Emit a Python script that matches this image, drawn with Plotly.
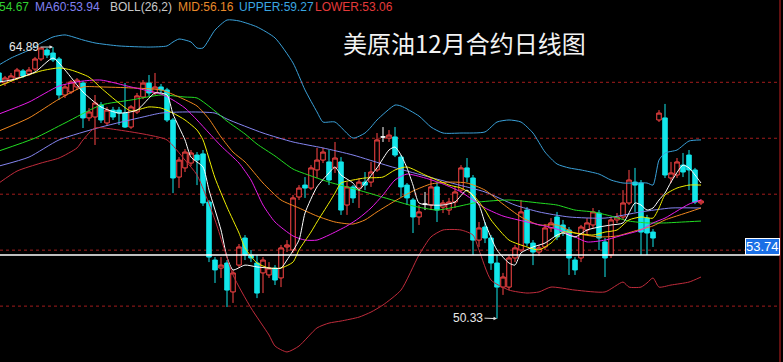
import numpy as np
import plotly.graph_objects as go

# ---------------- data ----------------
idx = list(range(-1, 117))

opens = [
    63.50, 62.96, 63.12, 63.23, 63.61, 63.45, 63.71, 64.25, 64.73, 64.57,
    64.25, 62.32, 62.48, 62.75, 62.96, 61.09, 61.14, 61.78, 60.82, 61.51,
    61.51, 61.35, 60.60, 61.41, 62.21, 62.96, 62.43, 62.75, 62.59, 60.98,
    57.92, 58.41, 58.67, 59.10, 59.16, 56.58, 53.47, 53.04, 53.31, 51.76,
    53.20, 54.65, 53.74, 53.31, 52.78, 52.67, 53.04, 52.51, 54.17, 54.01,
    56.85, 57.49, 57.33, 58.30, 58.83, 58.73, 58.41, 58.73, 56.42, 57.39,
    57.33, 57.65, 57.65, 58.30, 60.07, 60.01, 60.07, 58.99, 57.49, 56.69,
    55.78, 56.47, 56.42, 57.39, 56.31, 56.15, 56.58, 57.22, 58.41, 57.87,
    54.54, 55.24, 54.65, 53.31, 52.02, 52.02, 53.58, 54.01, 56.15, 54.38,
    53.90, 54.17, 55.19, 55.78, 55.35, 55.08, 53.47, 53.58, 55.08, 55.35,
    55.99, 54.44, 53.74, 55.62, 55.78, 56.53, 57.65, 57.60, 55.72, 54.97,
    60.98, 61.09, 57.87, 58.03, 58.56, 59.10, 58.30, 56.53]

highs = [
    63.66, 63.34, 63.50, 63.77, 63.71, 63.82, 64.36, 64.86, 64.84, 64.89,
    64.36, 62.91, 63.12, 63.23, 63.07, 61.62, 62.32, 61.94, 61.68, 61.68,
    61.68, 62.96, 61.78, 62.43, 63.12, 63.39, 63.50, 62.91, 62.70, 61.09,
    58.99, 59.42, 59.37, 59.26, 59.37, 56.69, 53.63, 53.63, 53.47, 52.94,
    54.33, 54.81, 54.01, 53.74, 53.63, 53.36, 53.20, 54.28, 54.54, 56.96,
    57.49, 57.92, 58.56, 59.48, 59.48, 59.37, 59.80, 58.99, 57.65, 57.49,
    57.87, 58.19, 58.73, 60.28, 60.60, 60.44, 60.60, 59.10, 57.60, 56.80,
    56.42, 57.12, 57.87, 57.65, 56.69, 56.80, 57.39, 58.56, 58.94, 58.03,
    55.51, 55.51, 54.81, 53.74, 52.78, 53.74, 54.28, 56.69, 56.31, 54.54,
    54.28, 55.40, 55.72, 56.05, 55.62, 55.24, 53.63, 55.35, 55.72, 56.26,
    56.15, 54.65, 55.78, 55.99, 57.22, 58.30, 58.41, 57.76, 55.89, 55.13,
    61.51, 61.84, 58.73, 58.94, 59.21, 59.37, 58.41, 56.74]

lows = [
    62.91, 62.80, 63.02, 63.12, 63.23, 63.34, 63.61, 64.14, 64.30, 64.09,
    62.05, 62.16, 62.37, 62.59, 60.55, 60.92, 59.64, 60.82, 60.66, 60.98,
    60.71, 60.55, 60.50, 61.30, 62.10, 62.27, 62.32, 62.43, 60.87, 57.06,
    57.33, 58.19, 58.51, 57.49, 56.37, 53.36, 52.24, 52.51, 50.95, 51.17,
    53.04, 53.47, 53.36, 51.43, 51.70, 52.51, 52.13, 52.02, 53.90, 53.85,
    56.69, 56.80, 57.22, 57.87, 58.67, 57.49, 58.14, 55.89, 55.89, 56.53,
    56.26, 57.22, 57.39, 58.19, 59.80, 59.80, 58.99, 56.85, 56.42, 54.92,
    55.35, 56.15, 56.15, 55.51, 55.99, 55.89, 56.26, 57.06, 57.65, 53.74,
    54.17, 54.38, 52.94, 50.33, 51.60, 51.86, 53.36, 53.90, 54.22, 53.20,
    53.69, 54.01, 54.97, 54.54, 54.76, 52.67, 52.67, 53.36, 54.81, 55.19,
    54.01, 52.56, 53.58, 55.46, 55.62, 56.42, 56.05, 53.74, 53.74, 54.17,
    60.87, 57.87, 57.60, 57.87, 57.92, 57.22, 56.47, 56.42]

closes = [
    63.02, 63.23, 63.34, 63.66, 63.34, 63.66, 64.25, 64.84, 64.46, 64.20,
    62.32, 62.75, 63.02, 63.12, 61.09, 61.41, 61.89, 60.98, 61.51, 61.14,
    61.35, 60.60, 61.68, 62.27, 62.96, 62.43, 62.75, 62.59, 60.98, 57.87,
    58.83, 59.26, 59.21, 58.83, 56.53, 53.63, 52.94, 53.20, 51.86, 52.78,
    54.17, 53.74, 53.58, 51.70, 53.47, 53.04, 52.40, 54.12, 54.28, 56.80,
    57.33, 57.33, 58.41, 58.83, 59.26, 57.76, 58.94, 56.15, 57.39, 56.80,
    57.65, 57.49, 58.19, 59.91, 60.07, 60.17, 59.10, 57.39, 56.80, 55.78,
    56.05, 56.47, 57.39, 56.15, 56.53, 56.58, 57.12, 58.41, 57.92, 54.54,
    55.19, 54.65, 53.31, 52.02, 52.56, 53.58, 54.12, 56.05, 54.38, 53.90,
    54.12, 55.19, 55.46, 54.71, 54.97, 53.58, 52.94, 55.24, 55.46, 56.05,
    54.65, 53.58, 55.62, 55.78, 56.53, 57.76, 57.49, 54.97, 54.92, 54.65,
    61.35, 58.03, 58.14, 58.73, 58.19, 58.30, 56.58, 56.64]

ma5_x = [-1, 1, 5, 8, 10, 13, 16, 19, 22, 25, 27, 28, 30, 31, 33, 34, 36, 37, 38, 40,
         42, 44, 46, 47, 49, 50, 52, 54, 55, 56, 58, 59, 60, 62, 64, 65, 66, 67, 68, 69,
         71, 73, 75, 77, 79, 80, 82, 84, 85, 86, 88, 90, 92, 93, 95, 97, 99, 101, 103, 105,
         106, 107, 108, 109, 110, 111, 113, 114, 115, 116]
ma5_y = [63.02, 63.12, 63.55, 64.30, 63.66, 62.48, 61.68, 61.35, 61.51, 62.43,
         62.32, 61.30, 59.91, 58.99, 58.46, 57.22, 55.08, 53.63, 52.94, 53.20,
         53.10, 53.04, 53.04, 53.47, 54.54, 55.99, 57.39, 58.14, 58.46, 58.03,
         57.60, 57.22, 57.60, 58.41, 59.37, 59.53, 59.10, 58.41, 57.49, 56.53,
         56.42, 56.42, 56.58, 57.22, 56.42, 55.46, 54.01, 53.31, 53.20, 53.85,
         54.17, 54.38, 54.81, 54.92, 54.71, 55.08, 55.24, 55.35, 55.46, 56.53,
         56.42, 56.15, 56.26, 56.69, 57.06, 57.65, 58.56, 58.41, 58.03, 57.60]

ma10_x = [-1, 2, 6, 9, 11, 14, 16, 19, 21, 24, 26, 28, 30, 32, 33, 35, 37, 39, 40, 42,
          44, 46, 48, 49, 51, 52, 54, 55, 56, 58, 60, 63, 65, 67, 70, 72, 74, 76, 78, 80,
          81, 84, 87, 89, 91, 93, 95, 98, 100, 102, 104, 106, 108, 109, 110, 112, 114, 116]
ma10_y = [62.80, 63.18, 63.61, 63.77, 63.66, 63.28, 62.70, 61.89, 61.46, 61.68,
          61.62, 61.35, 60.98, 60.44, 59.91, 57.87, 56.31, 54.92, 54.12, 53.31,
          53.04, 53.04, 53.36, 54.01, 54.97, 55.51, 56.53, 57.06, 57.60, 57.76,
          57.87, 57.92, 58.30, 58.46, 58.03, 57.76, 57.49, 57.33, 56.96, 56.15,
          55.62, 54.54, 54.17, 54.01, 54.38, 54.97, 54.92, 54.81, 54.97, 55.08,
          55.62, 55.78, 55.72, 56.26, 56.96, 57.33, 57.49, 57.49]

ma20_x = [-1, 4, 9, 13, 16, 21, 26, 28, 30, 32, 34, 36, 39, 41, 43, 45, 48, 50, 52, 54,
          57, 59, 61, 63, 65, 67, 70, 73, 76, 80, 83, 87, 92, 95, 97, 100, 103, 106, 108, 110,
          112, 114, 116]
ma20_y = [61.30, 61.94, 62.80, 63.07, 63.12, 62.75, 62.37, 62.05, 61.62, 60.98,
          60.28, 59.59, 58.67, 57.76, 56.42, 55.51, 54.76, 54.54, 54.54, 54.81,
          55.30, 55.72, 56.26, 56.96, 57.76, 58.08, 57.87, 57.55, 57.12, 56.26,
          55.83, 55.51, 55.13, 54.71, 54.44, 54.54, 54.81, 55.08, 55.46, 55.72,
          56.10, 56.47, 56.69]

mid_x = [-1, 4, 9, 13, 16, 21, 26, 29, 32, 34, 36, 38, 40, 43, 46, 49, 52, 55, 58, 60,
         62, 65, 68, 71, 74, 77, 80, 83, 86, 89, 92, 95, 99, 102, 105, 108, 110, 113, 116]
mid_y = [60.39, 61.09, 62.10, 62.75, 62.75, 62.70, 62.59, 62.21, 61.73, 61.03,
         60.07, 59.26, 58.73, 57.60, 56.69, 56.26, 55.83, 55.51, 55.40, 55.62,
         56.05, 56.64, 57.17, 57.55, 57.65, 57.60, 57.22, 56.47, 55.78, 55.35,
         55.35, 54.92, 54.71, 54.76, 55.03, 55.30, 55.62, 55.94, 56.26]

ma40_x = [-1, 5, 10, 16, 21, 26, 30, 32, 35, 37, 40, 42, 45, 48, 51, 54, 57, 60, 64, 68,
          72, 75, 79, 84, 89, 92, 95, 98, 101, 104, 107, 110, 113, 116]
ma40_y = [59.32, 60.01, 60.82, 61.78, 62.05, 62.32, 62.21, 62.16, 61.46, 60.92,
          60.23, 59.69, 59.05, 58.35, 57.98, 57.65, 57.39, 57.12, 56.74, 56.37,
          56.15, 56.31, 56.58, 56.69, 56.53, 56.42, 56.15, 56.05, 55.83, 55.56,
          55.46, 55.46, 55.51, 55.56]

ma60_x = [-1, 4, 9, 16, 23, 26, 30, 35, 37, 43, 48, 53, 58, 64, 70, 75, 80, 85, 89, 94,
          100, 106, 111, 116]
ma60_y = [58.51, 58.99, 59.91, 60.60, 61.14, 61.35, 61.41, 61.35, 61.03, 60.28,
          59.80, 59.48, 59.10, 58.51, 57.98, 57.55, 57.12, 56.42, 56.05, 55.78,
          55.72, 56.05, 56.26, 56.26]

upper_x = [-1, 1, 4, 6, 8, 10, 13, 15, 19, 24, 27, 28, 29, 31, 32, 33, 35, 37, 39, 42,
           45, 48, 50, 52, 53, 55, 58, 60, 61, 62, 65, 66, 69, 71, 73, 76, 80, 82, 84, 86,
           88, 90, 92, 94, 96, 99, 101, 103, 107, 108, 109, 110, 112, 114, 116]
upper_y = [63.93, 64.30, 64.73, 65.11, 65.43, 65.54, 65.27, 65.11, 64.95, 64.89,
           64.95, 65.16, 65.32, 65.16, 64.84, 64.84, 65.80, 66.34, 66.29, 65.97,
           65.38, 64.04, 62.59, 61.41, 60.87, 60.87, 60.01, 60.28, 60.60, 60.98,
           61.78, 61.73, 61.19, 60.60, 60.28, 60.28, 60.34, 60.87, 60.98, 60.87,
           60.28, 59.26, 58.62, 58.41, 58.30, 58.08, 57.76, 57.60, 57.60, 57.49,
           58.83, 59.21, 59.37, 59.85, 59.91]

lower_x = [-1, 2, 6, 9, 12, 13, 15, 19, 24, 27, 30, 32, 35, 38, 41, 44, 45, 47, 49, 52,
           54, 56, 59, 61, 63, 66, 69, 71, 73, 76, 78, 79, 81, 84, 87, 89, 91, 95, 100, 103,
           104, 106, 107, 108, 109, 111, 114, 116]
lower_y = [57.60, 58.24, 58.67, 58.94, 59.48, 59.91, 60.55, 60.44, 60.17, 59.91,
           58.83, 58.03, 55.62, 52.67, 50.90, 49.45, 48.86, 48.54, 48.86, 49.83,
           50.09, 50.20, 50.41, 50.68, 51.06, 51.86, 53.74, 54.71, 55.08, 55.08,
           54.81, 54.01, 52.40, 51.86, 51.70, 51.76, 52.02, 51.86, 51.76, 52.29,
           52.02, 52.02, 52.24, 52.51, 52.02, 52.13, 52.29, 52.56]

grid_levels = [51, 54, 57, 60, 63]
last_price = 53.74
title_text = "美原油12月合约日线图"
legend_labels = ["54.67", "MA60:53.94", "BOLL(26,2)", "MID:56.16", "UPPER:59.27", "LOWER:53.06"]

# ---------------- styling ----------------
RED = "#ff4646"
CYAN = "#12e6ea"
W, H = 783, 362
PLOT_W = 780
x_range = [-5 / 6, (PLOT_W - 5) / 6]
y_range = [48.003, 67.413]

o = np.array(opens); h = np.array(highs); l = np.array(lows); c = np.array(closes)
xi = np.array(idx)
doji = np.isclose(o, c)
norm = ~doji

fig = go.Figure()
fig.add_trace(go.Candlestick(
    x=xi[norm], open=o[norm], high=h[norm], low=l[norm], close=c[norm],
    increasing=dict(line=dict(color=RED, width=1), fillcolor="#000000"),
    decreasing=dict(line=dict(color=CYAN, width=1), fillcolor=CYAN),
    whiskerwidth=0, hoverinfo="skip", showlegend=False))
fig.add_trace(go.Candlestick(
    x=xi[doji], open=o[doji], high=h[doji], low=l[doji], close=c[doji],
    increasing=dict(line=dict(color="#ffffff", width=1), fillcolor="#ffffff"),
    decreasing=dict(line=dict(color="#ffffff", width=1), fillcolor="#ffffff"),
    whiskerwidth=0, hoverinfo="skip", showlegend=False))

line_specs = [
    (ma60_x, ma60_y, "#8585f0"),
    (ma40_x, ma40_y, "#22dd22"),
    (mid_x, mid_y, "#f0871e"),
    (ma20_x, ma20_y, "#e81ce8"),
    (ma10_x, ma10_y, "#f0f000"),
    (ma5_x, ma5_y, "#ffffff"),
    (upper_x, upper_y, "#3aa0d8"),
    (lower_x, lower_y, "#c02c3c"),
]
for lx, ly, col in line_specs:
    fig.add_trace(go.Scatter(x=lx, y=ly, mode="lines",
                             line=dict(color=col, width=1, shape="spline", smoothing=0.6),
                             hoverinfo="skip", showlegend=False))

shapes = []
for g in grid_levels:
    shapes.append(dict(type="line", xref="paper", x0=0, x1=1, yref="y", y0=g, y1=g,
                       line=dict(color="#a31c1c", width=1, dash="dot"), layer="below"))
shapes.append(dict(type="line", xref="paper", x0=0, x1=1, yref="y", y0=last_price, y1=last_price,
                   line=dict(color="#ffffff", width=1.3), layer="above"))
shapes.append(dict(type="line", xref="paper", x0=1, x1=1, yref="paper", y0=0, y1=1,
                   line=dict(color="#c42222", width=1), layer="above"))

annotations = []
legend_colors = ["#30d030", "#8080f0", "#c8c8c8", "#e8892a", "#3aa6e0", "#e43a3a"]
legend_px = [-3, 33, 108, 176, 237, 313]
for txt, col, px in zip(legend_labels, legend_colors, legend_px):
    annotations.append(dict(text=txt, xref="paper", yref="paper", x=px / PLOT_W, y=1 - 7 / H,
                            xanchor="left", yanchor="middle", showarrow=False,
                            font=dict(family="Liberation Sans, Arial", size=12, color=col)))
annotations.append(dict(text=title_text, xref="paper", yref="paper", x=464 / PLOT_W, y=1 - 42 / H,
                        xanchor="center", yanchor="middle", showarrow=False,
                        font=dict(family="Noto Sans CJK SC", size=24, color="#f2f2f2")))

hi_k = int(np.argmax(h)); lo_k = int(np.argmin(l))
for k, val, ay in [(hi_k, h[hi_k], 0), (lo_k, l[lo_k], -1)]:
    annotations.append(dict(text=f"{val:.2f}", x=int(xi[k]), y=float(val), xref="x", yref="y",
                            showarrow=True, ax=-29, ay=ay, arrowhead=2, arrowsize=0.7,
                            arrowwidth=1, arrowcolor="#e0e0e0", standoff=0,
                            font=dict(family="Liberation Sans, Arial", size=12, color="#e8e8e8")))

annotations.append(dict(text=f"{last_price:.2f}", xref="paper", x=1, xanchor="right",
                        yref="y", y=last_price, yanchor="bottom", showarrow=False,
                        bgcolor="#1a6fe6", bordercolor="#ffffff", borderwidth=1, borderpad=0,
                        font=dict(family="Liberation Sans, Arial", size=13, color="#ffffff")))

fig.update_layout(
    width=W, height=H,
    margin=dict(l=0, r=W - PLOT_W, t=0, b=0),
    paper_bgcolor="#000000", plot_bgcolor="#000000",
    xaxis=dict(range=x_range, visible=False, rangeslider=dict(visible=False), fixedrange=True),
    yaxis=dict(range=y_range, visible=False, fixedrange=True),
    boxgap=0.25, boxgroupgap=0,
    shapes=shapes, annotations=annotations,
    showlegend=False, hovermode=False,
)

fig.write_html("out.html", config={"displayModeBar": False})
